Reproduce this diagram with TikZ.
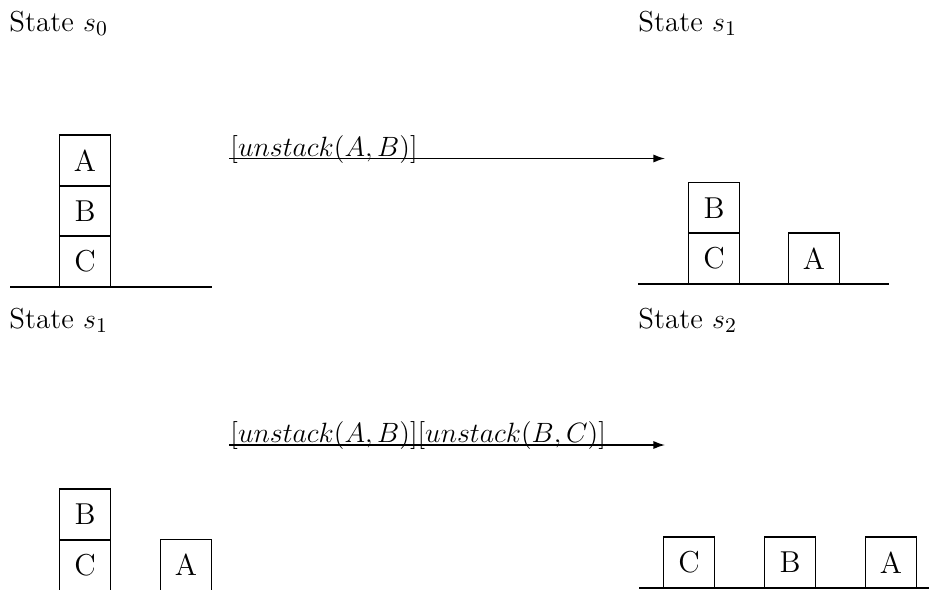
\documentclass[tikz,border=0pt]{standalone}
\usetikzlibrary{arrows.meta}
\begin{document}
\begin{tikzpicture}[x=0.43pt,y=-0.43pt,
  block/.style={draw,line width=0.6pt,minimum size=22pt,inner sep=0pt,font=\fontsize{13}{15}\selectfont},
  ground/.style={line width=0.6pt},
  statelabel/.style={anchor=base west,inner sep=0pt,font=\fontsize{12.4}{15}\selectfont},
  actlabel/.style={anchor=base west,inner sep=0pt,font=\fontsize{12.3}{15}\selectfont},
  act/.style={line width=0.6pt,-{Latex[length=5pt,width=3.5pt]}}]
\useasboundingbox (0,0) rectangle (929,589);
\clip (0,0) rectangle (929,589);

% ---- first transition: s0 -> s1
\node[statelabel] (t0) at (9,31) {State $s_0$};
\node[statelabel] (t1) at (638,31) {State $s_1$};

\node[block] (a0) at (85,160.5) {A};
\node[block] (b0) at (85,211) {B};
\node[block] (c0) at (85,261.5) {C};
\draw[ground] (10,287) -- (212,287);

\coordinate (p1) at (229,158.5);
\coordinate (q1) at (665,158.5);
\node[actlabel] (l1) at (230,156) {$[unstack(A,B)]$};
\draw[act] (p1) -- (q1);

\node[block] (b1) at (714,208) {B};
\node[block] (c1) at (714,258.5) {C};
\node[block] (a1) at (814,258.5) {A};
\draw[ground] (638,284) -- (889,284);

% ---- second transition: s1 -> s2
\node[statelabel] (t2) at (9,328) {State $s_1$};
\node[statelabel] (t3) at (638,328) {State $s_2$};

\coordinate (p2) at (229,445);
\coordinate (q2) at (665,445);
\node[actlabel] (l2) at (230,442.5) {$[unstack(A,B)][unstack(B,C)]$};
\draw[act] (p2) -- (q2);

\node[block] (b2) at (85,514.5) {B};
\node[block] (c2) at (85,565.5) {C};
\node[block] (a2) at (186,565) {A};
\draw[ground] (10,591) -- (212,591);

\node[block] (c3) at (689,562.5) {C};
\node[block] (b3) at (790,562.5) {B};
\node[block] (a3) at (891,562.5) {A};
\draw[ground] (639,588) -- (929,588);
\end{tikzpicture}
\end{document}
